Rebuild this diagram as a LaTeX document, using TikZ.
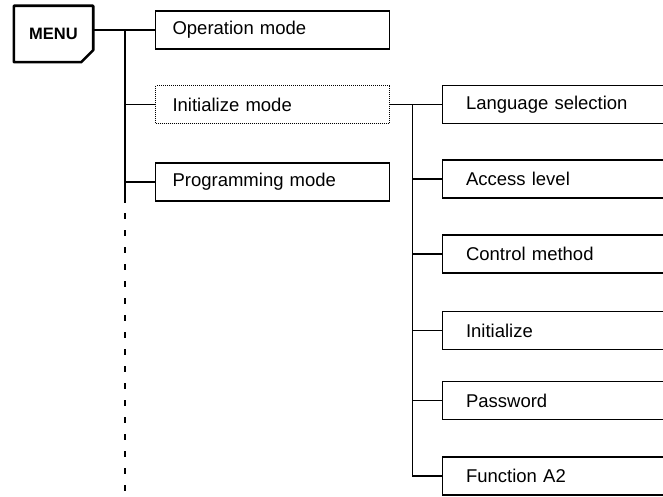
\documentclass[tikz,border=0pt]{standalone}
\usepackage{fontspec}
\setmainfont{Liberation Sans}
\begin{document}
\begin{tikzpicture}[x=1pt,y=-1pt,
  modebox/.style={draw,line width=1.1pt,rectangle,anchor=west,minimum width=228pt,minimum height=38pt,
    text width=200pt,align=left,inner xsep=17pt,font=\fontsize{18.5}{21}\selectfont},
  subbox/.style={modebox,minimum width=240pt,text width=195pt,inner xsep=23.5pt},
  wire/.style={line width=1.1pt},
  dashwire/.style={line width=1.1pt,dash pattern=on 6pt off 11pt}]
\useasboundingbox (0,0) rectangle (663,497);
\clip (0,0) rectangle (663,497);
% MENU
\node[minimum width=79pt,minimum height=56pt,inner sep=0pt,font=\bfseries\fontsize{16.5}{19}\selectfont] (menu) at (53.5,34) {MENU};
\draw[line width=2.6pt,line join=round] (menu.north west) -- (menu.north east) -- ([yshift=12pt]menu.south east)
  -- ([xshift=-12pt]menu.south east) -- (menu.south west) -- cycle;
% first level
\node[modebox] (op) at (155,30) {Operation mode};
\node[modebox,dash pattern=on 1pt off 1pt] (init) at (155,104.5) {Initialize mode};
\node[modebox] (prog) at (155,182) {Programming mode};
\coordinate (t0) at (125,30);
\coordinate (tsolid) at (125,203);
\coordinate (tend) at (125,497);
\draw[wire] (menu.east |- op.west) -- (op.west);
\draw[wire] (t0) -- (tsolid);
\draw[dashwire] ([yshift=-10pt]tsolid) -- (tend);
\draw[wire] (init.west) -- (init.west -| t0);
\draw[wire] (prog.west) -- (prog.west -| t0);
% second level
\node[subbox] (lang) at (442,104.5) {Language selection};
\node[subbox] (acc) at (442,179) {Access level};
\node[subbox] (ctrl) at (442,254) {Control method};
\node[subbox] (ini) at (442,330.5) {Initialize};
\node[subbox] (pw) at (442,400.5) {Password};
\node[subbox] (fa) at (442,476) {Function A2};
\coordinate (s0) at (412.5,104.5);
\draw[wire] (init.east) -- (lang.west);
\draw[wire] (s0) -- (s0 |- fa.west) -- (fa.west);
\foreach \n in {acc,ctrl,ini,pw} \draw[wire] (\n.west) -- (\n.west -| s0);
\end{tikzpicture}
\end{document}
